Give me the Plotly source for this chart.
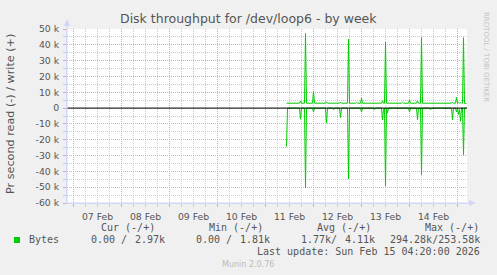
import plotly.graph_objects as go

# ---- data (values in kilobytes per second) ----
times = [
    "2026-02-11 10:30", "2026-02-11 11:00", "2026-02-11 17:00", "2026-02-11 17:30",
    "2026-02-11 18:00", "2026-02-11 19:30", "2026-02-11 20:00", "2026-02-11 20:30",
    "2026-02-11 23:30", "2026-02-12 00:00", "2026-02-12 00:30", "2026-02-12 06:00",
    "2026-02-12 06:30", "2026-02-12 07:00", "2026-02-12 09:30", "2026-02-12 10:00",
    "2026-02-12 10:30", "2026-02-12 13:00", "2026-02-12 13:30", "2026-02-12 14:00",
    "2026-02-12 17:00", "2026-02-12 17:30", "2026-02-12 18:00", "2026-02-12 21:00",
    "2026-02-12 21:30", "2026-02-12 22:00", "2026-02-12 23:30", "2026-02-13 00:00",
    "2026-02-13 00:30", "2026-02-13 06:00", "2026-02-13 06:30", "2026-02-13 07:00",
    "2026-02-13 10:00", "2026-02-13 10:30", "2026-02-13 11:00", "2026-02-13 11:30",
    "2026-02-13 12:00", "2026-02-13 12:30", "2026-02-13 13:00", "2026-02-13 13:30",
    "2026-02-13 20:00", "2026-02-13 20:30", "2026-02-13 21:00", "2026-02-13 23:30",
    "2026-02-14 00:00", "2026-02-14 00:30", "2026-02-14 03:30", "2026-02-14 04:00",
    "2026-02-14 04:30", "2026-02-14 05:30", "2026-02-14 06:00", "2026-02-14 06:30",
    "2026-02-14 10:00", "2026-02-14 10:30", "2026-02-14 11:00", "2026-02-14 21:00",
    "2026-02-14 21:30", "2026-02-14 22:00", "2026-02-14 23:00", "2026-02-14 23:30",
    "2026-02-15 00:00", "2026-02-15 00:30", "2026-02-15 01:00", "2026-02-15 01:30",
    "2026-02-15 02:00", "2026-02-15 02:30", "2026-02-15 03:00", "2026-02-15 03:30",
    "2026-02-15 04:30",
]
write_k = [
    3.1, 3.1, 3.1, 4.5,
    3.1, 3.1, 47.2, 3.1,
    3.1, 10.5, 3.1, 3.1,
    4.0, 3.1, 3.1, 3.5,
    3.1, 3.1, 3.8, 3.1,
    3.1, 43.7, 3.1, 3.1,
    3.6, 3.1, 3.1, 6.3,
    3.1, 3.1, 3.5, 3.1,
    3.1, 4.6, 3.1, 3.1,
    41.6, 3.1, 3.1, 3.1,
    3.1, 3.6, 3.1, 3.1,
    5.2, 3.1, 3.1, 4.5,
    3.1, 3.1, 44.5, 3.1,
    3.1, 3.5, 3.1, 3.1,
    3.8, 3.1, 3.1, 6.7,
    3.1, 3.5, 3.1, 3.5,
    3.1, 3.1, 44.5, 3.0,
    2.97,
]
read_k = [
    24.2, 0, 0, 7.0,
    0, 0, 50.4, 0,
    0, 2.5, 0, 0,
    9.5, 0, 0, 1.0,
    0, 0, 6.0, 0,
    0, 44.7, 0, 0,
    0, 0, 0, 2.5,
    0, 0, 1.0, 0,
    0, 7.4, 1.0, 0,
    49.4, 0, 3.0, 0,
    0, 0, 0, 0,
    2.5, 0, 0, 7.4,
    0, 0, 42.0, 0,
    0, 1.0, 0, 0,
    7.4, 0, 0, 2.5,
    0, 4.0, 1.0, 8.4,
    0, 0, 29.4, 0,
    0,
]
y_tickvals = [50, 40, 30, 20, 10, 0, -10, -20, -30, -40, -50, -60]
y_ticktext = ["50 k", "40 k", "30 k", "20 k", "10 k", "0", "-10 k", "-20 k",
              "-30 k", "-40 k", "-50 k", "-60 k"]
x_range = ["2026-02-06 20:45", "2026-02-15 04:45"]

title = "Disk throughput for /dev/loop6 - by week"
y_title = "Pr second read (-) / write (+)"
legend_name = "Bytes"
col_heads = ["Cur (-/+)", "Min (-/+)", "Avg (-/+)", "Max (-/+)"]
cur_vals = ["0.00 /", "2.97k"]
min_vals = ["0.00 /", "1.81k"]
avg_vals = ["1.77k/", "4.11k"]
max_vals = "294.28k/253.58k"
last_update = "Last update: Sun Feb 15 04:20:00 2026"
footer = "Munin 2.0.76"
side_text = "RRDTOOL / TOBI OETIKER"

# ---- styles ----
W, H = 497, 275
L, R, T, B = 67, 30, 29, 72
PW, PH = W - L - R, H - T - B
GREEN = "#00CC00"
FONT_C = "#555555"
MAJOR = "#E6A3A3"
MINOR = "#CACACA"
AXIS_C = "#CFD6F8"
SANS = "DejaVu Sans"
MONO = "DejaVu Sans Mono"


def fx(px):
    return (px - L) / PW


def fy(py):
    return (H - B - py) / PH


fig = go.Figure()
fig.add_trace(go.Scatter(x=times, y=write_k, mode="lines",
                         line=dict(color=GREEN, width=1), hoverinfo="skip",
                         showlegend=False))
fig.add_trace(go.Scatter(x=times, y=[-v for v in read_k], mode="lines",
                         line=dict(color=GREEN, width=1), hoverinfo="skip",
                         showlegend=False))

fig.update_layout(
    width=W, height=H, autosize=False,
    margin=dict(l=L, r=R, t=T, b=B, pad=0),
    paper_bgcolor="#F0F0F0", plot_bgcolor="#FFFFFF",
    showlegend=False,
    xaxis=dict(
        type="date", range=x_range, fixedrange=True,
        dtick=86400000, tick0="2026-02-07", tickformat="%d %b",
        ticklabelmode="period",
        showgrid=True, gridcolor=MAJOR, griddash="1px,1px", gridwidth=1,
        ticks="outside", ticklen=3, tickcolor=MAJOR,
        minor=dict(dtick=6 * 3600000, tick0="2026-02-07", showgrid=True,
                   gridcolor=MINOR, griddash="1px,1px", gridwidth=1,
                   ticks="outside", ticklen=3, tickcolor=MINOR),
        showline=True, linecolor=AXIS_C, linewidth=1,
        zeroline=False,
        tickfont=dict(family=SANS, size=9.3, color=FONT_C),
        ticklabelstandoff=2,
    ),
    yaxis=dict(
        range=[-60, 50], fixedrange=True,
        tickmode="array", tickvals=y_tickvals, ticktext=y_ticktext,
        showgrid=True, gridcolor=MAJOR, griddash="1px,1px", gridwidth=1,
        ticks="outside", ticklen=3, tickcolor=MAJOR,
        minor=dict(dtick=5, tick0=0, showgrid=True, gridcolor=MINOR,
                   griddash="1px,1px", gridwidth=1,
                   ticks="outside", ticklen=3, tickcolor=MINOR),
        showline=True, linecolor=AXIS_C, linewidth=1,
        zeroline=False,
        tickfont=dict(family=SANS, size=9.3, color=FONT_C),
        ticklabelstandoff=2,
    ),
)

shapes = []
# zero rule above the data
shapes.append(dict(type="line", xref="paper", yref="y", x0=0, x1=1, y0=0, y1=0,
                   line=dict(color="#000000", width=1), layer="above"))
# axis extensions and arrows
shapes.append(dict(type="line", xref="paper", yref="paper", x0=0, x1=0,
                   y0=0, y1=fy(22), line=dict(color=AXIS_C, width=1)))
shapes.append(dict(type="line", xref="paper", yref="paper", x0=0, x1=fx(473),
                   y0=0, y1=0, line=dict(color=AXIS_C, width=1)))
shapes.append(dict(type="path", xref="paper", yref="paper",
                   path=f"M {fx(64)} {fy(26)} L {fx(70)} {fy(26)} L {fx(67)} {fy(19)} Z",
                   fillcolor=AXIS_C, line=dict(width=0)))
shapes.append(dict(type="path", xref="paper", yref="paper",
                   path=f"M {fx(469)} {fy(200)} L {fx(469)} {fy(206)} L {fx(476)} {fy(203)} Z",
                   fillcolor=AXIS_C, line=dict(width=0)))
# legend swatch
shapes.append(dict(type="rect", xref="paper", yref="paper",
                   x0=fx(14), x1=fx(20), y0=fy(243), y1=fy(237),
                   fillcolor=GREEN, line=dict(width=0)))
fig.update_layout(shapes=shapes)

ann = []


def text(s, px, py, anchor="left", size=10, fam=MONO, color=FONT_C, angle=0):
    ann.append(dict(text=s, x=fx(px), y=fy(py), xref="paper", yref="paper",
                    xanchor=anchor, yanchor="middle", showarrow=False,
                    textangle=angle,
                    font=dict(family=fam, size=size, color=color)))


text(title, 248, 18.5, "center", 12.5, SANS)
text(y_title, 10, 114, "center", 11.2, SANS, angle=-90)
text(side_text, 486, 57, "center", 7, SANS, "#C4C4C4", angle=90)
text(col_heads[0], 98.7, 227.3)
text(col_heads[1], 206.7, 227.3)
text(col_heads[2], 315, 227.3)
text(col_heads[3], 422.7, 227.3)
text(legend_name, 26.7, 239.7)
text(cur_vals[0], 89, 239.7)
text(cur_vals[1], 166.7, 239.7, "right")
text(min_vals[0], 194.3, 239.7)
text(min_vals[1], 272.3, 239.7, "right")
text(avg_vals[0], 299.3, 239.7)
text(avg_vals[1], 376.7, 239.7, "right")
text(max_vals, 482.3, 239.7, "right")
text(last_update, 482.3, 251.7, "right")
text(footer, 248, 264, "center", 8, SANS, "#BBBBBB")
fig.update_layout(annotations=ann)

fig.write_html("out.html", config={"displayModeBar": False})
